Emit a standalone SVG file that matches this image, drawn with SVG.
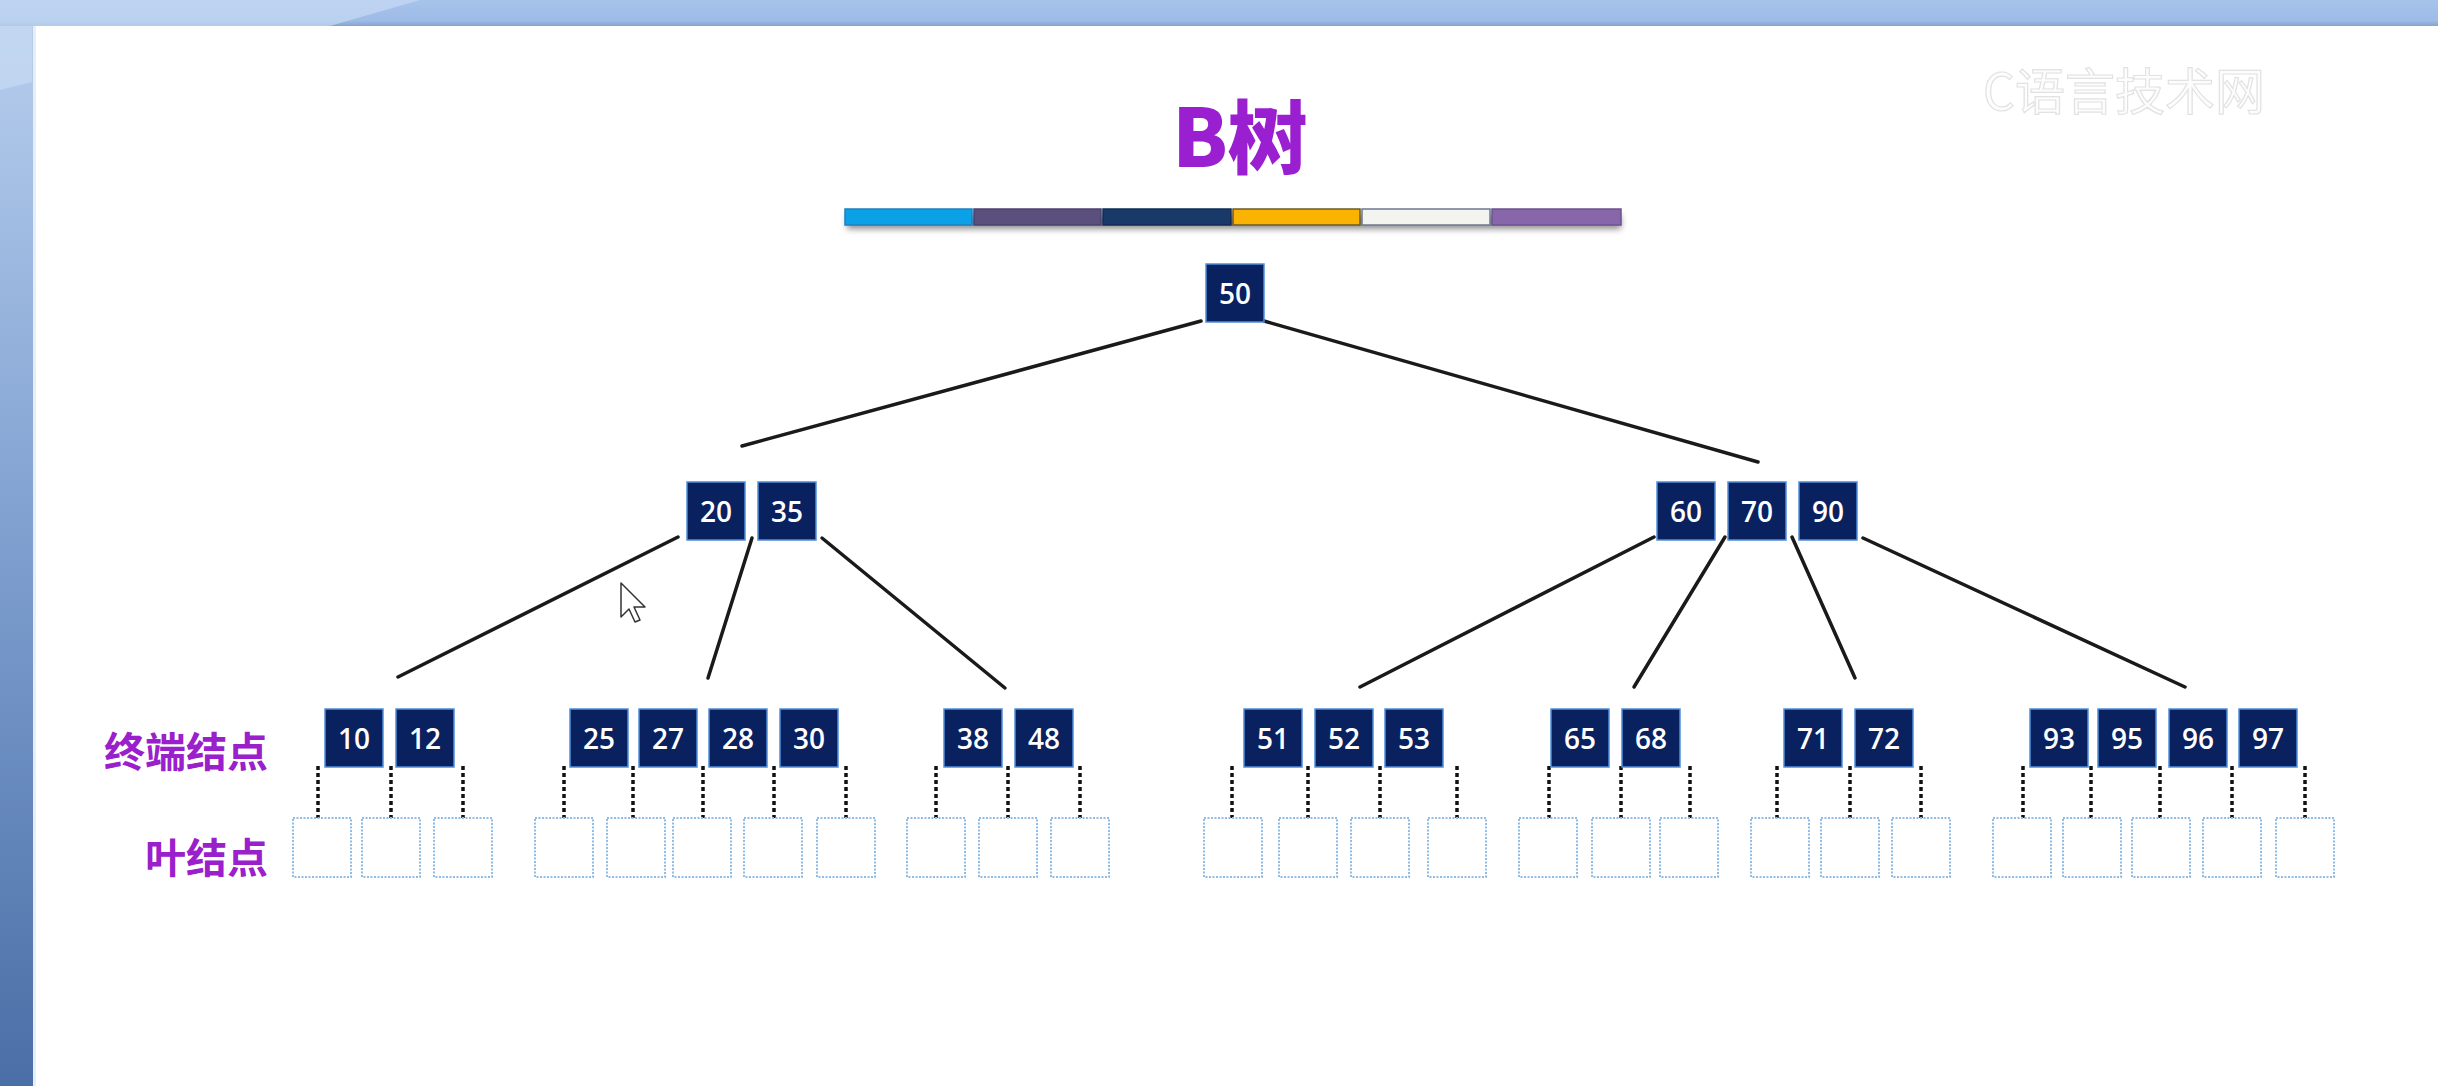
<svg xmlns="http://www.w3.org/2000/svg" width="2438" height="1086" viewBox="0 0 2438 1086">
<defs>
<linearGradient id="sideGrad" x1="0" y1="0" x2="0" y2="1">
<stop offset="0" stop-color="#b9d0ef"/>
<stop offset="0.5" stop-color="#7e9fcf"/>
<stop offset="1" stop-color="#4a6ea6"/>
</linearGradient>
<linearGradient id="topGrad" x1="0" y1="0" x2="0" y2="1">
<stop offset="0" stop-color="#a6c3ea"/>
<stop offset="0.8" stop-color="#9dbbe6"/>
<stop offset="1" stop-color="#86a3cc"/>
</linearGradient>
<filter id="blur" x="-5%" y="-100%" width="110%" height="300%">
<feGaussianBlur stdDeviation="3"/>
</filter>
<style>
.key rect{fill:#0a2160;stroke:#4f8fd8;stroke-width:1.5}
.key text{fill:#ffffff;font-family:"Open Sans","Noto Sans",sans-serif;font-weight:600;font-size:28px;text-anchor:middle}
.leaf rect{fill:#ffffff;stroke:#8fbde6;stroke-width:2;stroke-dasharray:2 1.5}
.edge{stroke:#1a1a1a;stroke-width:3.5;fill:none;stroke-linecap:round}
.ptr{stroke:#111111;stroke-width:3.5;fill:none;stroke-dasharray:4 3}
.lbl{fill:#9a20cc;font-family:"Noto Sans CJK SC",sans-serif;font-weight:700;font-size:41px;text-anchor:end}
.seg{stroke-width:1.5}
</style>
</defs>

<g id="background">
<rect x="0" y="0" width="2438" height="1086" fill="url(#sideGrad)"/>
<rect x="0" y="0" width="2438" height="26" fill="url(#topGrad)"/>
<polygon points="0,0 420,0 330,26 32,26 32,82 0,90" fill="#c8daf3" opacity="0.7"/>
<rect x="33" y="26" width="2405" height="1060" fill="#ffffff"/>
<rect x="33" y="26" width="3" height="1060" fill="#e8eef6"/>
</g>

<g id="watermark" font-family="Noto Sans CJK SC,sans-serif" fill="#fdfdfd" stroke="#e2e2e2" stroke-width="1.2">
<text x="1983" y="110" font-size="50">C语言技术网</text>
</g>

<g id="title">
<text x="1240" y="167" font-family="Noto Sans CJK SC,sans-serif" font-weight="900" font-size="80" fill="#9a1fd0" text-anchor="middle">B树</text>
</g>

<g id="colorbar">
<rect x="847" y="215" width="774" height="14" fill="#444" opacity="0.6" filter="url(#blur)"/>
<rect class="seg" x="845" y="209" width="127" height="16" fill="#0ba1e6" stroke="#1f7fc0"/>
<rect class="seg" x="974" y="209" width="127" height="16" fill="#5b4f7e" stroke="#4b4170"/>
<rect class="seg" x="1103" y="209" width="128" height="16" fill="#193a68" stroke="#122d55"/>
<rect class="seg" x="1233" y="209" width="127" height="16" fill="#f9b300" stroke="#6b5a2a"/>
<rect class="seg" x="1362" y="209" width="128" height="16" fill="#f3f3ef" stroke="#6a7a90"/>
<rect class="seg" x="1492" y="209" width="129" height="16" fill="#8767a9" stroke="#6c5290"/>
</g>

<g id="connectors">
<line class="edge" x1="1201" y1="321" x2="742" y2="446"/>
<line class="edge" x1="1264" y1="321" x2="1758" y2="462"/>
<line class="edge" x1="678" y1="537" x2="398" y2="677"/>
<line class="edge" x1="752" y1="538" x2="708" y2="678"/>
<line class="edge" x1="822" y1="538" x2="1005" y2="688"/>
<line class="edge" x1="1654" y1="537" x2="1360" y2="687"/>
<line class="edge" x1="1725" y1="537" x2="1634" y2="687"/>
<line class="edge" x1="1792" y1="537" x2="1855" y2="678"/>
<line class="edge" x1="1863" y1="538" x2="2185" y2="687"/>
<g id="pointers">
<line class="ptr" x1="318" y1="766" x2="318" y2="818"/>
<line class="ptr" x1="391" y1="766" x2="391" y2="818"/>
<line class="ptr" x1="463" y1="766" x2="463" y2="818"/>
<line class="ptr" x1="564" y1="766" x2="564" y2="818"/>
<line class="ptr" x1="633" y1="766" x2="633" y2="818"/>
<line class="ptr" x1="703" y1="766" x2="703" y2="818"/>
<line class="ptr" x1="774" y1="766" x2="774" y2="818"/>
<line class="ptr" x1="846" y1="766" x2="846" y2="818"/>
<line class="ptr" x1="936" y1="766" x2="936" y2="818"/>
<line class="ptr" x1="1008" y1="766" x2="1008" y2="818"/>
<line class="ptr" x1="1080" y1="766" x2="1080" y2="818"/>
<line class="ptr" x1="1232" y1="766" x2="1232" y2="818"/>
<line class="ptr" x1="1308" y1="766" x2="1308" y2="818"/>
<line class="ptr" x1="1380" y1="766" x2="1380" y2="818"/>
<line class="ptr" x1="1457" y1="766" x2="1457" y2="818"/>
<line class="ptr" x1="1549" y1="766" x2="1549" y2="818"/>
<line class="ptr" x1="1621" y1="766" x2="1621" y2="818"/>
<line class="ptr" x1="1690" y1="766" x2="1690" y2="818"/>
<line class="ptr" x1="1777" y1="766" x2="1777" y2="818"/>
<line class="ptr" x1="1850" y1="766" x2="1850" y2="818"/>
<line class="ptr" x1="1921" y1="766" x2="1921" y2="818"/>
<line class="ptr" x1="2023" y1="766" x2="2023" y2="818"/>
<line class="ptr" x1="2091" y1="766" x2="2091" y2="818"/>
<line class="ptr" x1="2160" y1="766" x2="2160" y2="818"/>
<line class="ptr" x1="2232" y1="766" x2="2232" y2="818"/>
<line class="ptr" x1="2305" y1="766" x2="2305" y2="818"/>
</g>
</g>

<g id="node-root" class="key">
<rect x="1206" y="264" width="58" height="58"/><text x="1235" y="304">50</text>
</g>

<g id="node-20-35" class="key">
<rect x="687" y="482" width="58" height="58"/><text x="716" y="522">20</text>
<rect x="758" y="482" width="58" height="58"/><text x="787" y="522">35</text>
</g>

<g id="node-60-70-90" class="key">
<rect x="1657" y="482" width="58" height="58"/><text x="1686" y="522">60</text>
<rect x="1728" y="482" width="58" height="58"/><text x="1757" y="522">70</text>
<rect x="1799" y="482" width="58" height="58"/><text x="1828" y="522">90</text>
</g>

<g id="node-10-12" class="key">
<rect x="325" y="709" width="58" height="58"/><text x="354" y="749">10</text>
<rect x="396" y="709" width="58" height="58"/><text x="425" y="749">12</text>
</g>

<g id="node-25-30" class="key">
<rect x="570" y="709" width="58" height="58"/><text x="599" y="749">25</text>
<rect x="639" y="709" width="58" height="58"/><text x="668" y="749">27</text>
<rect x="709" y="709" width="58" height="58"/><text x="738" y="749">28</text>
<rect x="780" y="709" width="58" height="58"/><text x="809" y="749">30</text>
</g>

<g id="node-38-48" class="key">
<rect x="944" y="709" width="58" height="58"/><text x="973" y="749">38</text>
<rect x="1015" y="709" width="58" height="58"/><text x="1044" y="749">48</text>
</g>

<g id="node-51-53" class="key">
<rect x="1244" y="709" width="58" height="58"/><text x="1273" y="749">51</text>
<rect x="1315" y="709" width="58" height="58"/><text x="1344" y="749">52</text>
<rect x="1385" y="709" width="58" height="58"/><text x="1414" y="749">53</text>
</g>

<g id="node-65-68" class="key">
<rect x="1551" y="709" width="58" height="58"/><text x="1580" y="749">65</text>
<rect x="1622" y="709" width="58" height="58"/><text x="1651" y="749">68</text>
</g>

<g id="node-71-72" class="key">
<rect x="1784" y="709" width="58" height="58"/><text x="1813" y="749">71</text>
<rect x="1855" y="709" width="58" height="58"/><text x="1884" y="749">72</text>
</g>

<g id="node-93-97" class="key">
<rect x="2030" y="709" width="58" height="58"/><text x="2059" y="749">93</text>
<rect x="2098" y="709" width="58" height="58"/><text x="2127" y="749">95</text>
<rect x="2169" y="709" width="58" height="58"/><text x="2198" y="749">96</text>
<rect x="2239" y="709" width="58" height="58"/><text x="2268" y="749">97</text>
</g>

<g id="leaves" class="leaf">
<g id="leaf-1"><rect x="293" y="818" width="58" height="59"/></g>
<g id="leaf-2"><rect x="362" y="818" width="58" height="59"/></g>
<g id="leaf-3"><rect x="434" y="818" width="58" height="59"/></g>
<g id="leaf-4"><rect x="535" y="818" width="58" height="59"/></g>
<g id="leaf-5"><rect x="607" y="818" width="58" height="59"/></g>
<g id="leaf-6"><rect x="673" y="818" width="58" height="59"/></g>
<g id="leaf-7"><rect x="744" y="818" width="58" height="59"/></g>
<g id="leaf-8"><rect x="817" y="818" width="58" height="59"/></g>
<g id="leaf-9"><rect x="907" y="818" width="58" height="59"/></g>
<g id="leaf-10"><rect x="979" y="818" width="58" height="59"/></g>
<g id="leaf-11"><rect x="1051" y="818" width="58" height="59"/></g>
<g id="leaf-12"><rect x="1204" y="818" width="58" height="59"/></g>
<g id="leaf-13"><rect x="1279" y="818" width="58" height="59"/></g>
<g id="leaf-14"><rect x="1351" y="818" width="58" height="59"/></g>
<g id="leaf-15"><rect x="1428" y="818" width="58" height="59"/></g>
<g id="leaf-16"><rect x="1519" y="818" width="58" height="59"/></g>
<g id="leaf-17"><rect x="1592" y="818" width="58" height="59"/></g>
<g id="leaf-18"><rect x="1660" y="818" width="58" height="59"/></g>
<g id="leaf-19"><rect x="1751" y="818" width="58" height="59"/></g>
<g id="leaf-20"><rect x="1821" y="818" width="58" height="59"/></g>
<g id="leaf-21"><rect x="1892" y="818" width="58" height="59"/></g>
<g id="leaf-22"><rect x="1993" y="818" width="58" height="59"/></g>
<g id="leaf-23"><rect x="2063" y="818" width="58" height="59"/></g>
<g id="leaf-24"><rect x="2132" y="818" width="58" height="59"/></g>
<g id="leaf-25"><rect x="2203" y="818" width="58" height="59"/></g>
<g id="leaf-26"><rect x="2276" y="818" width="58" height="59"/></g>
</g>

<g id="labels">
<text class="lbl" x="268" y="767">终端结点</text>
<text class="lbl" x="268" y="873">叶结点</text>
</g>

<g id="cursor">
<polygon points="621,583 621,617 629,609 635,622 640,620 634,607 645,607" fill="#ffffff" stroke="#333333" stroke-width="1.5" stroke-linejoin="round"/>
</g>
</svg>
